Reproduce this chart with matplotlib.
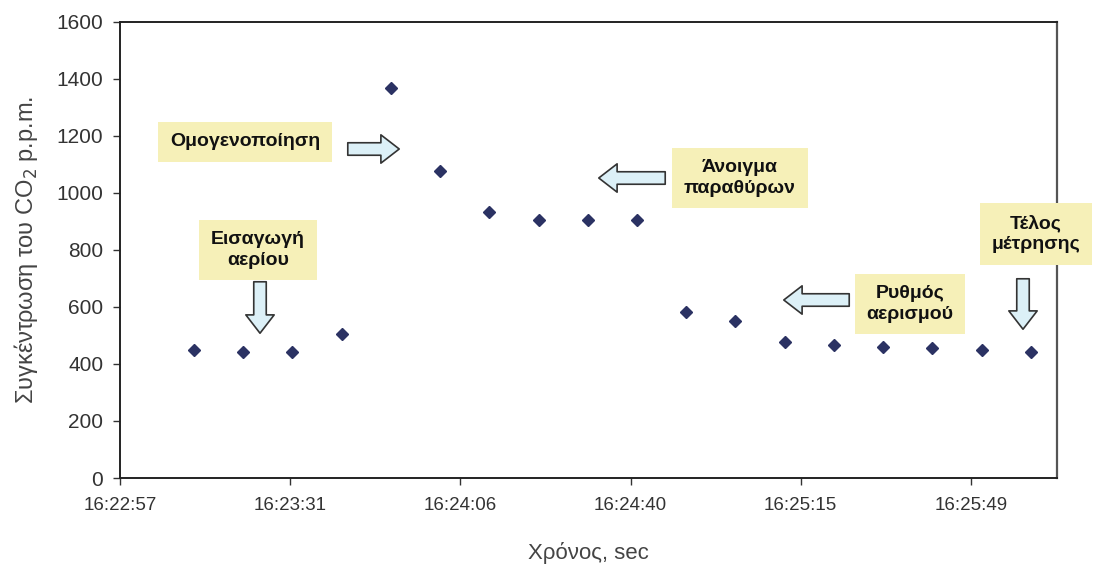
import numpy as np
import matplotlib.pyplot as plt
from matplotlib.ticker import FixedLocator, FuncFormatter
from matplotlib.patches import FancyArrowPatch

# Δεδομένα: χρόνος μέτρησης και συγκέντρωση CO2 (p.p.m.)
times = ["16:23:12", "16:23:22", "16:23:32", "16:23:42", "16:23:52", "16:24:02",
         "16:24:12", "16:24:22", "16:24:32", "16:24:42", "16:24:52", "16:25:02",
         "16:25:12", "16:25:22", "16:25:32", "16:25:42", "16:25:52", "16:26:02"]
co2 = [448, 442, 442, 505, 1368, 1076, 932, 905, 905, 905, 582, 550,
       478, 467, 460, 455, 448, 442]

start = "16:22:57"      # αρχή του άξονα
tick_step = 34.56       # βήμα Excel (0.0004 ημέρες) σε sec
x_end = 190.3

def to_sec(s):
    h, m, sec = map(int, s.split(":"))
    return h * 3600 + m * 60 + sec

t0 = to_sec(start)
x = np.array([to_sec(t) - t0 for t in times])

def fmt(v, pos):
    s = int(np.floor(t0 + v + 1e-6))
    return "%d:%02d:%02d" % (s // 3600, (s % 3600) // 60, s % 60)

plt.rcParams['font.family'] = ['Liberation Sans', 'DejaVu Sans']

W, H = 1105, 572
fig = plt.figure(figsize=(W / 100, H / 100), dpi=100)
ax = fig.add_axes([120 / W, 1 - 478 / H, (1057 - 120) / W, (478 - 22) / H])

ax.plot(x, co2, linestyle='none', marker='D', markersize=6,
        color='#2b3263', markeredgecolor='#2b3263')

ax.set_xlim(0, x_end)
ax.set_ylim(0, 1600)
ax.xaxis.set_major_locator(FixedLocator(np.arange(6) * tick_step))
ax.xaxis.set_major_formatter(FuncFormatter(fmt))
ax.set_yticks(range(0, 1601, 200))
ax.tick_params(axis='both', colors='#333333', length=5, width=1)
ax.tick_params(axis='x', labelsize=13.5, pad=9)
ax.tick_params(axis='y', labelsize=15, pad=7)

for side in ['left', 'bottom', 'top']:
    ax.spines[side].set_linewidth(1.4)
    ax.spines[side].set_color('#222222')
ax.spines['right'].set_linewidth(1.6)
ax.spines['right'].set_color('#555555')

ax.set_xlabel("Χρόνος, sec", fontsize=16, color='#444444', labelpad=20)
ax.set_ylabel("Συγκέντρωση του CO$_2$ p.p.m.", fontsize=17, color='#444444',
              labelpad=12)

# σχολιασμοί: κουτιά κειμένου και βέλη (σε pixel της εικόνας)
def px(xp, yp):
    return (xp / W, 1 - yp / H)

box = dict(boxstyle='square,pad=0.6', facecolor='#f6f0b8', edgecolor='none')
notes = [
    ("Ομογενοποίηση", 245, 142),
    ("Άνοιγμα\nπαραθύρων", 740, 178),
    ("Εισαγωγή\nαερίου", 258, 250),
    ("Ρυθμός\nαερισμού", 910, 304),
    ("Τέλος\nμέτρησης", 1036, 234),
]
for txt, xp, yp in notes:
    fig.text(*px(xp, yp), txt, ha='center', va='center', fontsize=14,
             fontweight='bold', color='#111111', bbox=box,
             linespacing=1.25)

arrows = [
    ((345, 149), (402, 149)),
    ((668, 178), (596, 178)),
    ((260, 279), (260, 336)),
    ((852, 300), (781, 300)),
    ((1023, 276), (1023, 332)),
]
for a, b in arrows:
    arr = FancyArrowPatch(px(*a), px(*b), transform=fig.transFigure,
                          arrowstyle='simple,head_length=1.1,head_width=1.7,tail_width=0.75',
                          mutation_scale=12, facecolor='#dcf0f7',
                          edgecolor='#333333', linewidth=1.2)
    fig.patches.append(arr)

fig.savefig("out.png", dpi=100)
